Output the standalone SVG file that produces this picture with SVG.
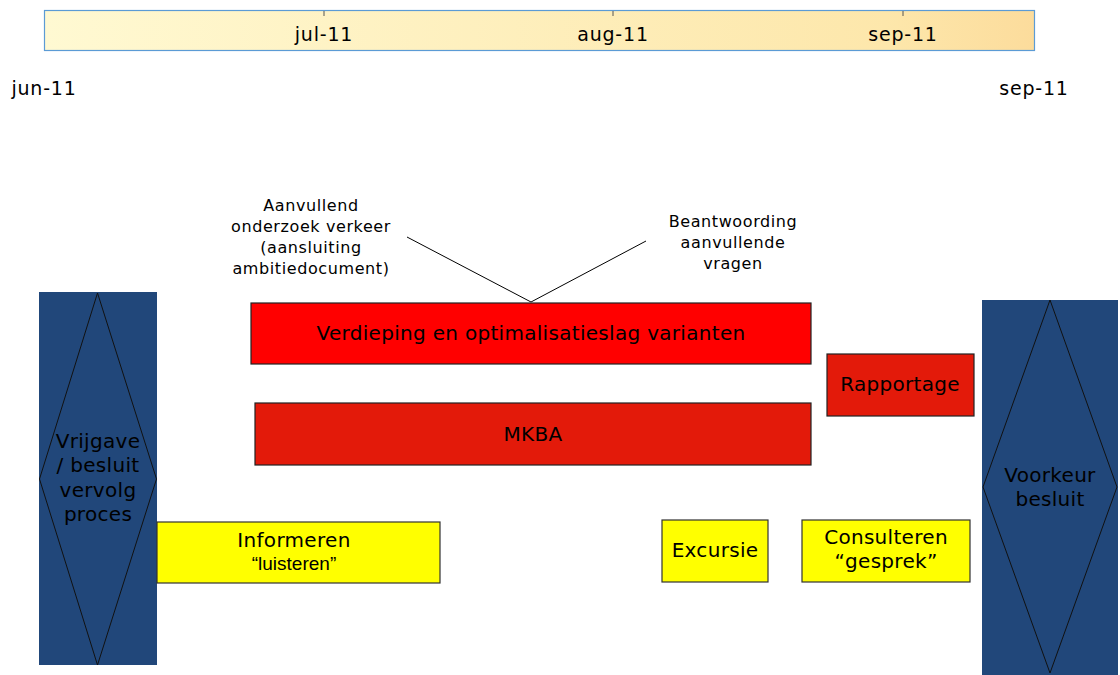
<svg xmlns="http://www.w3.org/2000/svg" width="1120" height="675" viewBox="0 0 1120 675">
<defs>
<linearGradient id="tl" x1="0" y1="0" x2="1" y2="0">
<stop offset="0" stop-color="#fff9d2"/>
<stop offset="0.85" stop-color="#fde7ab"/>
<stop offset="1" stop-color="#fcdc9c"/>
</linearGradient>
</defs>
<style>
text{font-family:"DejaVu Sans",Verdana,sans-serif;fill:#000;text-anchor:middle}
.tick{stroke:#555;stroke-width:1}
.lbl{font-size:19px;letter-spacing:0.8px}
.big{font-size:20px;letter-spacing:0.3px}
.note{font-size:16px;letter-spacing:0.6px}
.ar{font-family:"Liberation Sans",Arial,sans-serif;font-size:19px}
.blue{fill:#21477a}
.dia{fill:none;stroke:#111;stroke-width:1}
.red1{fill:#ff0000;stroke:#222;stroke-width:1.2}
.red2{fill:#e31a0a;stroke:#222;stroke-width:1.2}
.yel{fill:#ffff00;stroke:#333;stroke-width:1.2}
.con{stroke:#000;stroke-width:1;fill:none}
</style>
<g id="timeline">
<rect x="44.5" y="10.5" width="990" height="40" fill="url(#tl)" stroke="#5b9bd5" stroke-width="1.2"/>
<line class="tick" x1="324" y1="11" x2="324" y2="16"/>
<line class="tick" x1="613" y1="11" x2="613" y2="16"/>
<line class="tick" x1="903" y1="11" x2="903" y2="16"/>
<text class="lbl" x="324" y="41">jul-11</text>
<text class="lbl" x="613" y="41">aug-11</text>
<text class="lbl" x="903" y="41">sep-11</text>
</g>
<g id="start-label"><text class="lbl" x="44" y="95">jun-11</text></g>
<g id="end-label"><text class="lbl" x="1034" y="95">sep-11</text></g>
<g id="connectors">
<line class="con" x1="407" y1="237" x2="531" y2="302"/>
<line class="con" x1="531" y1="302" x2="646" y2="241"/>
</g>
<g id="note-aanvullend">
<text class="note" x="311" y="211">Aanvullend</text>
<text class="note" x="311" y="232">onderzoek verkeer</text>
<text class="note" x="311" y="253">(aansluiting</text>
<text class="note" x="311" y="274">ambitiedocument)</text>
</g>
<g id="note-beantwoording">
<text class="note" x="733" y="227">Beantwoording</text>
<text class="note" x="733" y="248">aanvullende</text>
<text class="note" x="733" y="269">vragen</text>
</g>
<g id="vrijgave">
<rect class="blue" x="39" y="292" width="118" height="373"/>
<polygon class="dia" points="97.5,293 156.5,479 97.5,665 39.5,479"/>
<text class="big" x="98" y="448">Vrijgave</text>
<text class="big" x="98" y="472">/ besluit</text>
<text class="big" x="98" y="497">vervolg</text>
<text class="big" x="98" y="521">proces</text>
</g>
<g id="voorkeur">
<rect class="blue" x="982" y="300" width="136" height="375"/>
<polygon class="dia" points="1050,300 1117,487 1050,673 983,487"/>
<text class="big" x="1050" y="482">Voorkeur</text>
<text class="big" x="1050" y="506">besluit</text>
</g>
<g id="verdieping">
<rect class="red1" x="251" y="303" width="560" height="61"/>
<text class="big" x="531" y="340">Verdieping en optimalisatieslag varianten</text>
</g>
<g id="mkba">
<rect class="red2" x="255" y="403" width="556" height="62"/>
<text class="big" x="533" y="441">MKBA</text>
</g>
<g id="rapportage">
<rect class="red2" x="827" y="354" width="147" height="62"/>
<text class="big" x="900" y="391">Rapportage</text>
</g>
<g id="informeren">
<rect class="yel" x="157" y="522" width="283" height="61"/>
<text class="big" x="294" y="547">Informeren</text>
<text class="ar" x="294" y="570">“luisteren”</text>
</g>
<g id="excursie">
<rect class="yel" x="662" y="520" width="106" height="62"/>
<text class="big" x="715" y="557">Excursie</text>
</g>
<g id="consulteren">
<rect class="yel" x="802" y="520" width="168" height="62"/>
<text class="big" x="886" y="544">Consulteren</text>
<text class="big" x="886" y="568">“gesprek”</text>
</g>
</svg>
